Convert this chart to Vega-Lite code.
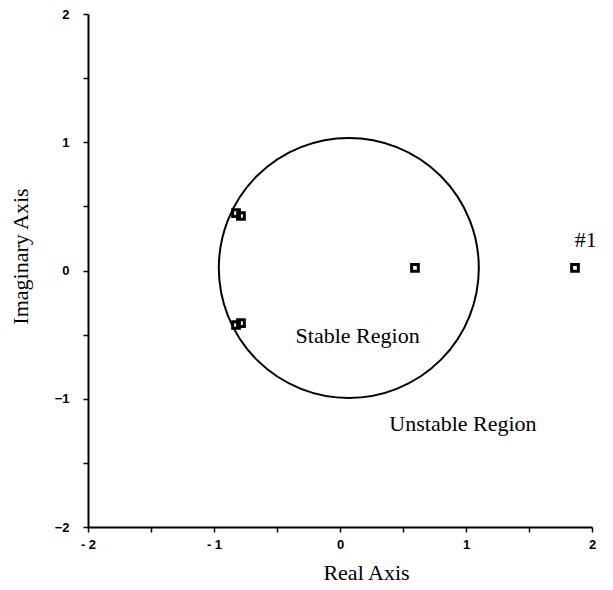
{
  "$schema": "https://vega.github.io/schema/vega-lite/v6.json",
  "width": 504,
  "height": 513,
  "autosize": {"type": "none"},
  "padding": {"left": 88, "top": 14, "right": 21, "bottom": 63},
  "background": "white",
  "config": {"view": {"stroke": null}},
  "datasets": {
    "poles": [
      {"re": -0.825, "im": 0.448},
      {"re": -0.786, "im": 0.425},
      {"re": -0.825, "im": -0.425},
      {"re": -0.786, "im": -0.41},
      {"re": 0.595, "im": 0.02},
      {"re": 1.865, "im": 0.02}
    ],
    "circle": [{"re": 0.07, "im": 0.02}],
    "labels": [
      {"re": 0.14, "im": -0.51, "text": "Stable Region"},
      {"re": 0.976, "im": -1.2, "text": "Unstable Region"},
      {"re": 1.95, "im": 0.24, "text": "#1"}
    ]
  },
  "layer": [
    {
      "data": {"name": "circle"},
      "mark": {"type": "point", "shape": "circle", "filled": false, "stroke": "black", "strokeWidth": 2, "size": 67600, "opacity": 1},
      "encoding": {
        "x": {
          "field": "re", "type": "quantitative",
          "scale": {"domain": [-2, 2], "nice": false, "zero": false},
          "axis": {
            "title": "Real Axis",
            "values": [-2, -1.5, -1, -0.5, 0, 0.5, 1, 1.5, 2],
            "labelExpr": "datum.value == -2 ? '- 2' : datum.value == -1 ? '- 1' : datum.value == 0 ? '0' : datum.value == 1 ? '1' : datum.value == 2 ? '2' : ''",
            "grid": false,
            "domainColor": "black", "domainWidth": 2,
            "tickColor": "black", "tickWidth": 1.5, "tickSize": 5,
            "labelFont": "Liberation Sans", "labelFontSize": 13, "labelFontWeight": "bold", "labelColor": "black",
            "labelPadding": 6, "labelFlush": false,
            "titleFont": "Liberation Serif", "titleFontSize": 22, "titleFontWeight": "normal", "titleColor": "black",
            "titlePadding": 11, "titleX": 278
          }
        },
        "y": {
          "field": "im", "type": "quantitative",
          "scale": {"domain": [-2, 2], "nice": false, "zero": false},
          "axis": {
            "title": "Imaginary Axis",
            "values": [-2, -1.5, -1, -0.5, 0, 0.5, 1, 1.5, 2],
            "labelExpr": "datum.value % 1 == 0 ? format(datum.value, 'd') : ''",
            "grid": false,
            "domainColor": "black", "domainWidth": 2,
            "tickColor": "black", "tickWidth": 1.5, "tickSize": 5,
            "labelFont": "Liberation Sans", "labelFontSize": 13, "labelFontWeight": "bold", "labelColor": "black",
            "labelPadding": 14, "labelFlush": false,
            "titleFont": "Liberation Serif", "titleFontSize": 22, "titleFontWeight": "normal", "titleColor": "black",
            "titlePadding": 22, "titleY": 242
          }
        }
      }
    },
    {
      "data": {"name": "poles"},
      "mark": {"type": "point", "shape": "square", "filled": false, "stroke": "black", "strokeWidth": 3, "size": 45, "opacity": 1},
      "encoding": {
        "x": {"field": "re", "type": "quantitative"},
        "y": {"field": "im", "type": "quantitative"}
      }
    },
    {
      "data": {"name": "labels"},
      "mark": {"type": "text", "font": "Liberation Serif", "fontSize": 22, "color": "black", "align": "center", "baseline": "middle"},
      "encoding": {
        "x": {"field": "re", "type": "quantitative"},
        "y": {"field": "im", "type": "quantitative"},
        "text": {"field": "text"}
      }
    }
  ]
}
